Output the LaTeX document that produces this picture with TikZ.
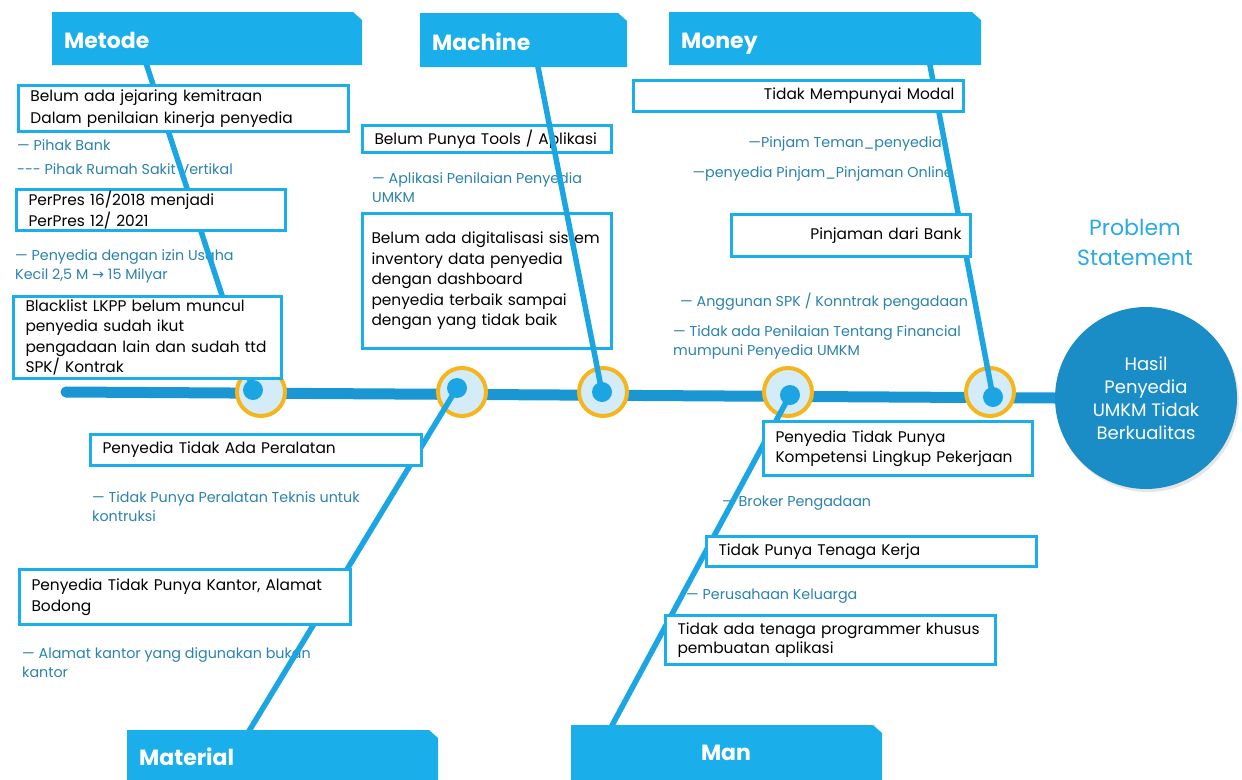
\documentclass[tikz,border=0pt]{standalone}
\usepackage{fontspec}
\setmainfont{Poppins}
\newfontfamily\arrowfont{DejaVu Sans}
\usepackage{tikz}
\usetikzlibrary{shadows}
\definecolor{tabblue}{HTML}{1AAFEA}
\definecolor{boneblue}{HTML}{1BA6E3}
\definecolor{spineblue}{HTML}{1A97D3}
\definecolor{ringfill}{HTML}{D4ECF8}
\definecolor{ringgold}{HTML}{F5B61D}
\definecolor{effectblue}{HTML}{1A8DC7}
\definecolor{subteal}{HTML}{2A82AD}
\definecolor{probblue}{HTML}{2BA9E1}

\begin{document}
\begin{tikzpicture}[x=1pt,y=-1pt,
  bone/.style={boneblue,line width=5.5pt},
  tabtext/.style={text=white,inner sep=0pt,font=\fontsize{22}{26}\selectfont\bfseries},
  ring/.style={circle,draw=ringgold,line width=4pt,fill=ringfill,minimum size=48pt,inner sep=0pt},
  cause/.style={draw=tabblue,line width=3pt,fill=white,inner xsep=12pt,inner ysep=0pt,align=left,font=\fontsize{15.4}{20.5}\selectfont},
  sub/.style={text=subteal,inner sep=0pt,align=left,font=\fontsize{14.3}{18.2}\selectfont}]
\useasboundingbox (0,0) rectangle (1242,779);
\node[circle,fill=effectblue,minimum size=182pt,inner sep=0pt,text=white,align=center,
  font=\fontsize{18}{23}\selectfont,drop shadow={opacity=0.2,shadow xshift=2pt,shadow yshift=-3pt}]
  (effect) at (1146,398) {Hasil\\Penyedia\\UMKM Tidak\\Berkualitas};
\node[text=probblue,align=center,font=\fontsize{22}{30}\selectfont] (problem) at (1135,242) {Problem\\Statement};
\coordinate (spineStart) at (66,392);
\draw[spineblue,line width=11pt] (spineStart) -- (effect.west);
\fill[spineblue] (spineStart) circle (5.5pt);
\foreach \n/\x in {A/261,B/462,C/603,D/788,E/990}
  \node[ring] (ring\n) at (\x,392) {};
\coordinate (dotA) at (253,390);
\coordinate (dotB) at (457,388);
\coordinate (dotC) at (602,392);
\coordinate (dotD) at (790,395);
\coordinate (dotE) at (993,397);
\coordinate (metodeTail) at (145,60);
\coordinate (machineTail) at (537,62);
\coordinate (moneyTail) at (929,60);
\coordinate (materialTail) at (246,736);
\coordinate (manTail) at (609,731);
\node[sub,anchor=base west] (pihakBank) at (17,150) {— Pihak Bank};
\node[sub,anchor=base west] (rumahSakit) at (17,174) {\mbox{-}\mbox{-}\mbox{-} Pihak Rumah Sakit Vertikal};
\node[sub,anchor=base west] (izinUsaha) at (15,279) {— Penyedia dengan izin Usaha\\Kecil 2,5 M {\arrowfont →} 15 Milyar};
\node[sub,anchor=base west] (aplikasiUmkm) at (372,202) {— Aplikasi Penilaian Penyedia\\UMKM};
\node[sub,anchor=base east] (pinjamTeman) at (942,147) {—Pinjam Teman\_penyedia};
\node[sub,anchor=base east] (pinjamOnline) at (953,177) {—penyedia Pinjam\_Pinjaman Online};
\node[sub,anchor=base west] (anggunan) at (680,306) {— Anggunan SPK / Konntrak pengadaan};
\node[sub,anchor=base west] (financial) at (673,355) {— Tidak ada Penilaian Tentang Financial\\mumpuni Penyedia UMKM};
\node[sub,anchor=base west] (teknis) at (92,521) {— Tidak Punya Peralatan Teknis untuk\\kontruksi};
\node[sub,anchor=base west] (alamat) at (22,677) {— Alamat kantor yang digunakan bukan\\kantor};
\node[sub,anchor=base west] (broker) at (722,506) {— Broker Pengadaan};
\node[sub,anchor=base west] (keluarga) at (686,599) {— Perusahaan Keluarga};
\draw[bone] (metodeTail) -- (dotA);
\draw[bone] (moneyTail) -- (dotE);
\draw[bone] (materialTail) -- (dotB);
\draw[bone] (manTail) -- (dotD);
\node[cause,minimum width=330pt,minimum height=46pt,text width=306pt,font=\fontsize{15.4}{22}\selectfont] (jejaring) at (183.5,108.5)
  {Belum ada jejaring kemitraan\\Dalam penilaian kinerja penyedia};
\node[cause,minimum width=269pt,minimum height=41pt,text width=245pt] (perpres) at (151,210)
  {PerPres 16/2018 menjadi\\PerPres 12/ 2021};
\node[cause,minimum width=268pt,minimum height=82pt,text width=244pt] (blacklist) at (147.5,337.5)
  {Blacklist LKPP belum muncul\\penyedia sudah ikut\\pengadaan lain dan sudah ttd\\SPK/ Kontrak};
\node[cause,minimum width=249pt,minimum height=27pt,text width=225pt] (tools) at (487,139)
  {Belum Punya Tools / Aplikasi};
\node[cause,inner xsep=9pt,minimum width=249pt,minimum height=135pt,text width=231pt] (digital) at (487,281)
  {Belum ada digitalisasi sistem\\inventory data penyedia\\dengan dashboard\\penyedia terbaik sampai\\dengan yang tidak baik};
\node[cause,align=right,inner xsep=9pt,minimum width=330pt,minimum height=31pt,text width=312pt] (modal) at (798.5,96)
  {Tidak Mempunyai Modal};
\node[cause,align=right,inner xsep=9pt,minimum width=239pt,minimum height=42pt,text width=221pt] (pinjaman) at (851,235.5)
  {Pinjaman dari Bank};
\node[cause,minimum width=331pt,minimum height=31pt,text width=307pt] (peralatan) at (256,450)
  {Penyedia Tidak Ada Peralatan};
\node[cause,minimum width=331pt,minimum height=55pt,text width=307pt] (kantor) at (185,597)
  {Penyedia Tidak Punya Kantor, Alamat\\Bodong};
\node[cause,minimum width=269pt,minimum height=54pt,text width=245pt] (kompetensi) at (898,448.5)
  {Penyedia Tidak Punya\\Kompetensi Lingkup Pekerjaan};
\node[cause,minimum width=330pt,minimum height=30pt,text width=306pt] (tenaga) at (871.5,551.5)
  {Tidak Punya Tenaga Kerja};
\node[cause,minimum width=330pt,minimum height=49pt,text width=306pt,font=\fontsize{15.4}{18.5}\selectfont] (programmer) at (830.5,640)
  {Tidak ada tenaga programmer khusus\\pembuatan aplikasi};
\draw[bone] (machineTail) -- (dotC);
\foreach \d in {A,B,C,D,E}
  \fill[boneblue] (dot\d) circle (10pt);
\foreach \l/\t/\r/\b in {52/12/362/65,420/13/627/67,669/12/981/65,127/730/438/790,571/725/882/790}
  \fill[tabblue] (\l,\t) -- (\r-9,\t) -- (\r,\t+8) -- (\r,\b) -- (\l,\b) -- cycle;
\node[tabtext,anchor=base west] (metode) at (64,48) {Metode};
\node[tabtext,anchor=base west] (machine) at (432,50) {Machine};
\node[tabtext,anchor=base west] (money) at (681,48) {Money};
\node[tabtext,anchor=base west] (material) at (139,765) {Material};
\node[tabtext,anchor=base] (man) at (726,760) {Man};
\end{tikzpicture}
\end{document}
